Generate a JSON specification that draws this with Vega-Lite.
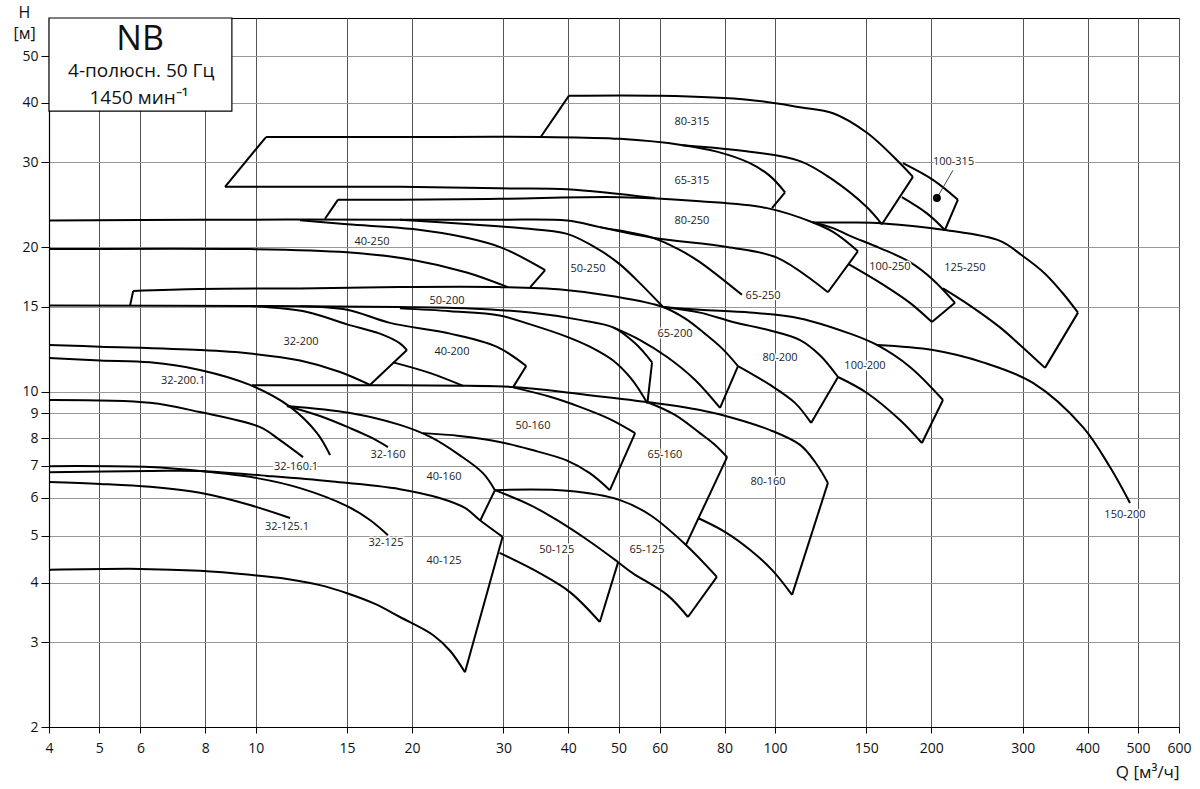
{
"$schema":"https://vega.github.io/schema/vega-lite/v6.json",
"width":1130,"height":709,
"autosize":{"type":"none"},
"padding":{"left":49,"top":18,"right":21,"bottom":62},
"background":"white",
"config":{"view":{"stroke":"#000","strokeWidth":1},"axis":{"labelFlush":false,"labelOverlap":false,"labelBound":false}},
"datasets":{
"box":[{"q":4,"q2":9.0,"h":38.4,"h2":60}],
"leader":[{"q":205.1,"h":25.3,"q2":220.2,"h2":28.9}],
"curves":[
{"s":"a1","o":0,"q":58.8,"h":25.3},{"s":"a1","o":1,"q":39.8,"h":26.4},{"s":"a1","o":2,"q":29.5,"h":26.5},{"s":"a1","o":3,"q":19.0,"h":26.7},{"s":"a1","o":4,"q":12.18,"h":26.7},{"s":"a1","o":5,"q":8.73,"h":26.7},
{"s":"a2","o":0,"q":8.73,"h":26.7},{"s":"a2","o":1,"q":10.47,"h":33.9},
{"s":"a3","o":0,"q":10.47,"h":33.9},{"s":"a3","o":1,"q":19.0,"h":33.9},{"s":"a3","o":2,"q":35.4,"h":33.9},{"s":"a3","o":3,"q":50.3,"h":33.6},{"s":"a3","o":4,"q":66.5,"h":32.6},{"s":"a3","o":5,"q":77.3,"h":31.6},{"s":"a3","o":6,"q":89.5,"h":29.9},{"s":"a3","o":7,"q":97.9,"h":28.1},{"s":"a3","o":8,"q":104.6,"h":26.0},
{"s":"a4","o":0,"q":104.6,"h":26.0},{"s":"a4","o":1,"q":98.7,"h":24.1},
{"s":"b1","o":0,"q":35.4,"h":33.9},{"s":"b1","o":1,"q":40.1,"h":41.3},
{"s":"b2","o":0,"q":40.1,"h":41.3},{"s":"b2","o":1,"q":60.1,"h":41.3},{"s":"b2","o":2,"q":89.5,"h":40.5},{"s":"b2","o":3,"q":111.8,"h":39.1},{"s":"b2","o":4,"q":129.4,"h":38.0},{"s":"b2","o":5,"q":150.4,"h":34.6},{"s":"b2","o":6,"q":174.1,"h":29.9},{"s":"b2","o":7,"q":184.4,"h":28.0},
{"s":"b3","o":0,"q":184.4,"h":28.0},{"s":"b3","o":1,"q":160.7,"h":22.3},
{"s":"b4","o":0,"q":66.5,"h":32.6},{"s":"b4","o":1,"q":89.5,"h":31.6},{"s":"b4","o":2,"q":111.8,"h":30.2},{"s":"b4","o":3,"q":129.4,"h":27.6},{"s":"b4","o":4,"q":150.4,"h":24.2},{"s":"b4","o":5,"q":160.7,"h":22.3},
{"s":"c1","o":0,"q":176.4,"h":29.9},{"s":"c1","o":1,"q":201.5,"h":27.6},{"s":"c1","o":2,"q":225.1,"h":25.1},
{"s":"c2","o":0,"q":225.1,"h":25.1},{"s":"c2","o":1,"q":212.5,"h":21.7},
{"s":"c3","o":0,"q":175.6,"h":25.4},{"s":"c3","o":1,"q":196.2,"h":23.5},{"s":"c3","o":2,"q":212.5,"h":21.7},
{"s":"d1","o":0,"q":13.6,"h":22.9},{"s":"d1","o":1,"q":14.41,"h":25.1},
{"s":"d2","o":0,"q":14.41,"h":25.1},{"s":"d2","o":1,"q":18.96,"h":25.1},{"s":"d2","o":2,"q":29.5,"h":25.2},{"s":"d2","o":3,"q":50.3,"h":25.4},{"s":"d2","o":4,"q":71.7,"h":24.9},{"s":"d2","o":5,"q":96.6,"h":24.1},{"s":"d2","o":6,"q":118.4,"h":22.5},{"s":"d2","o":7,"q":129.4,"h":21.5},{"s":"d2","o":8,"q":144.5,"h":19.6},
{"s":"d3","o":0,"q":144.5,"h":19.6},{"s":"d3","o":1,"q":126.5,"h":16.1},
{"s":"d4","o":0,"q":46.0,"h":22.0},{"s":"d4","o":1,"q":58.2,"h":20.9},{"s":"d4","o":2,"q":80.9,"h":20.0},{"s":"d4","o":3,"q":100.9,"h":19.0},{"s":"d4","o":4,"q":126.5,"h":16.1},
{"s":"e1","o":0,"q":4,"h":22.7},{"s":"e1","o":1,"q":7.81,"h":22.8},{"s":"e1","o":2,"q":18.96,"h":22.8},{"s":"e1","o":3,"q":29.5,"h":22.8},{"s":"e1","o":4,"q":39.8,"h":22.7},{"s":"e1","o":5,"q":46.0,"h":22.0},{"s":"e1","o":6,"q":58.2,"h":20.9},{"s":"e1","o":7,"q":65.7,"h":19.7},{"s":"e1","o":8,"q":71.7,"h":18.6},{"s":"e1","o":9,"q":86.4,"h":15.9},
{"s":"f1","o":0,"q":18.96,"h":22.8},{"s":"f1","o":1,"q":25.9,"h":22.3},{"s":"f1","o":2,"q":32.3,"h":21.9},{"s":"f1","o":3,"q":39.8,"h":21.3},{"s":"f1","o":4,"q":46.0,"h":19.7},{"s":"f1","o":5,"q":50.3,"h":18.4},{"s":"f1","o":6,"q":55.0,"h":16.8},{"s":"f1","o":7,"q":60.9,"h":15.0},
{"s":"g1","o":0,"q":12.18,"h":22.75},{"s":"g1","o":1,"q":15.0,"h":22.3},{"s":"g1","o":2,"q":20.1,"h":21.8},{"s":"g1","o":3,"q":25.5,"h":20.9},{"s":"g1","o":4,"q":29.9,"h":19.9},{"s":"g1","o":5,"q":36.1,"h":17.9},
{"s":"g2","o":0,"q":36.1,"h":17.9},{"s":"g2","o":1,"q":33.8,"h":16.5},
{"s":"g3","o":0,"q":4,"h":19.8},{"s":"g3","o":1,"q":9.75,"h":19.8},{"s":"g3","o":2,"q":15.0,"h":19.5},{"s":"g3","o":3,"q":20.1,"h":18.8},{"s":"g3","o":4,"q":25.5,"h":17.7},{"s":"g3","o":5,"q":30.6,"h":16.5},
{"s":"h1","o":0,"q":118.4,"h":22.5},{"s":"h1","o":1,"q":129.4,"h":21.9},{"s":"h1","o":2,"q":139.5,"h":21.1},{"s":"h1","o":3,"q":159.3,"h":19.9},{"s":"h1","o":4,"q":182.0,"h":18.6},{"s":"h1","o":5,"q":201.5,"h":17.1},{"s":"h1","o":6,"q":222.2,"h":15.3},
{"s":"h2","o":0,"q":222.2,"h":15.3},{"s":"h2","o":1,"q":200.6,"h":13.96},
{"s":"h3","o":0,"q":138.9,"h":18.4},{"s":"h3","o":1,"q":161.5,"h":16.7},{"s":"h3","o":2,"q":182.0,"h":15.3},{"s":"h3","o":3,"q":200.6,"h":13.96},
{"s":"i1","o":0,"q":118.4,"h":22.5},{"s":"i1","o":1,"q":139.5,"h":22.5},{"s":"i1","o":2,"q":161.5,"h":22.4},{"s":"i1","o":3,"q":212.5,"h":21.7},{"s":"i1","o":4,"q":271.3,"h":20.6},{"s":"i1","o":5,"q":299.3,"h":19.2},{"s":"i1","o":6,"q":331.2,"h":17.6},{"s":"i1","o":7,"q":357.1,"h":16.1},{"s":"i1","o":8,"q":383.4,"h":14.6},
{"s":"i2","o":0,"q":383.4,"h":14.6},{"s":"i2","o":1,"q":331.2,"h":11.2},
{"s":"i3","o":0,"q":210.7,"h":16.4},{"s":"i3","o":1,"q":237.5,"h":15.1},{"s":"i3","o":2,"q":271.3,"h":13.6},{"s":"i3","o":3,"q":296.5,"h":12.5},{"s":"i3","o":4,"q":331.2,"h":11.2},
{"s":"j1","o":0,"q":5.73,"h":15.1},{"s":"j1","o":1,"q":5.81,"h":16.2},
{"s":"j2","o":0,"q":5.81,"h":16.2},{"s":"j2","o":1,"q":7.81,"h":16.35},{"s":"j2","o":2,"q":12.18,"h":16.4},{"s":"j2","o":3,"q":18.96,"h":16.5},{"s":"j2","o":4,"q":29.5,"h":16.5},{"s":"j2","o":5,"q":39.1,"h":16.3},{"s":"j2","o":6,"q":48.8,"h":15.8},{"s":"j2","o":7,"q":60.9,"h":15.0},{"s":"j2","o":8,"q":67.1,"h":14.2},{"s":"j2","o":9,"q":73.3,"h":13.2},{"s":"j2","o":10,"q":79.1,"h":12.3},{"s":"j2","o":11,"q":84.9,"h":11.3},
{"s":"j4","o":0,"q":84.9,"h":11.3},{"s":"j4","o":1,"q":78.4,"h":9.24},
{"s":"j5","o":0,"q":48.8,"h":13.6},{"s":"j5","o":1,"q":55.0,"h":12.8},{"s":"j5","o":2,"q":62.0,"h":11.8},{"s":"j5","o":3,"q":70.2,"h":10.57},{"s":"j5","o":4,"q":78.4,"h":9.24},
{"s":"k1","o":0,"q":60.9,"h":15.0},{"s":"k1","o":1,"q":71.7,"h":14.8},{"s":"k1","o":2,"q":89.5,"h":14.6},{"s":"k1","o":3,"q":111.8,"h":14.2},{"s":"k1","o":4,"q":139.5,"h":13.2},{"s":"k1","o":5,"q":157.2,"h":12.5},{"s":"k1","o":6,"q":182.0,"h":11.25},{"s":"k1","o":7,"q":210.7,"h":9.6},
{"s":"k2","o":0,"q":210.7,"h":9.6},{"s":"k2","o":1,"q":191.9,"h":7.81},
{"s":"k3","o":0,"q":132.3,"h":10.72},{"s":"k3","o":1,"q":150.4,"h":9.93},{"s":"k3","o":2,"q":174.1,"h":8.72},{"s":"k3","o":3,"q":191.9,"h":7.81},
{"s":"l1","o":0,"q":60.9,"h":15.0},{"s":"l1","o":1,"q":71.7,"h":14.6},{"s":"l1","o":2,"q":83.0,"h":13.96},{"s":"l1","o":3,"q":97.9,"h":13.4},{"s":"l1","o":4,"q":111.8,"h":12.8},{"s":"l1","o":5,"q":122.1,"h":11.9},{"s":"l1","o":6,"q":132.3,"h":10.72},
{"s":"l2","o":0,"q":132.3,"h":10.72},{"s":"l2","o":1,"q":117.4,"h":8.6},
{"s":"l3","o":0,"q":84.9,"h":11.3},{"s":"l3","o":1,"q":97.9,"h":10.32},{"s":"l3","o":2,"q":109.3,"h":9.47},{"s":"l3","o":3,"q":117.4,"h":8.6},
{"s":"m1","o":0,"q":157.2,"h":12.5},{"s":"m1","o":1,"q":201.5,"h":12.2},{"s":"m1","o":2,"q":251.6,"h":11.5},{"s":"m1","o":3,"q":314.0,"h":10.42},{"s":"m1","o":4,"q":391.9,"h":8.43},{"s":"m1","o":5,"q":441.8,"h":6.96},{"s":"m1","o":6,"q":482.8,"h":5.86},
{"s":"n1","o":0,"q":4,"h":15.1},{"s":"n1","o":1,"q":9.75,"h":15.07},{"s":"n1","o":2,"q":18.96,"h":15.0},{"s":"n1","o":3,"q":25.9,"h":14.9},{"s":"n1","o":4,"q":33.8,"h":14.6},{"s":"n1","o":5,"q":42.1,"h":14.1},{"s":"n1","o":6,"q":48.8,"h":13.6},{"s":"n1","o":7,"q":53.8,"h":12.6},{"s":"n1","o":8,"q":58.0,"h":11.5},
{"s":"n2","o":0,"q":58.0,"h":11.5},{"s":"n2","o":1,"q":56.8,"h":9.45},
{"s":"n3","o":0,"q":18.96,"h":14.9},{"s":"n3","o":1,"q":23.7,"h":14.7},{"s":"n3","o":2,"q":29.5,"h":14.4},{"s":"n3","o":3,"q":33.8,"h":13.8},{"s":"n3","o":4,"q":39.8,"h":13.0},{"s":"n3","o":5,"q":44.0,"h":12.4},{"s":"n3","o":6,"q":48.8,"h":11.6},{"s":"n3","o":7,"q":53.1,"h":10.57},{"s":"n3","o":8,"q":56.8,"h":9.45},
{"s":"o1","o":0,"q":9.75,"h":15.07},{"s":"o1","o":1,"q":12.56,"h":14.65},{"s":"o1","o":2,"q":15.0,"h":13.8},{"s":"o1","o":3,"q":17.35,"h":13.2},{"s":"o1","o":4,"q":18.96,"h":12.6},{"s":"o1","o":5,"q":19.56,"h":12.2},
{"s":"o2","o":0,"q":19.56,"h":12.2},{"s":"o2","o":1,"q":16.6,"h":10.32},
{"s":"o3","o":0,"q":4,"h":12.5},{"s":"o3","o":1,"q":5.02,"h":12.4},{"s":"o3","o":2,"q":7.81,"h":12.2},{"s":"o3","o":3,"q":9.75,"h":12.0},{"s":"o3","o":4,"q":12.18,"h":11.6},{"s":"o3","o":5,"q":14.54,"h":10.98},{"s":"o3","o":6,"q":16.6,"h":10.32},
{"s":"p1","o":0,"q":12.18,"h":15.05},{"s":"p1","o":1,"q":15.0,"h":14.8},{"s":"p1","o":2,"q":18.14,"h":13.9},{"s":"p1","o":3,"q":23.7,"h":13.2},{"s":"p1","o":4,"q":29.1,"h":12.4},{"s":"p1","o":5,"q":33.2,"h":11.3},
{"s":"p2","o":0,"q":33.2,"h":11.3},{"s":"p2","o":1,"q":31.3,"h":10.2},
{"s":"p3","o":0,"q":18.4,"h":11.5},{"s":"p3","o":1,"q":21.7,"h":10.92},{"s":"p3","o":2,"q":25.1,"h":10.27},
{"s":"q1","o":0,"q":4,"h":11.74},{"s":"q1","o":1,"q":5.02,"h":11.6},{"s":"q1","o":2,"q":6.26,"h":11.5},{"s":"q1","o":3,"q":7.81,"h":11.09},{"s":"q1","o":4,"q":9.75,"h":10.32},{"s":"q1","o":5,"q":11.65,"h":9.29},{"s":"q1","o":6,"q":13.13,"h":8.19},{"s":"q1","o":7,"q":13.91,"h":7.37},
{"s":"r1","o":0,"q":4,"h":9.6},{"s":"r1","o":1,"q":6.26,"h":9.47},{"s":"r1","o":2,"q":7.81,"h":9.06},{"s":"r1","o":3,"q":10.2,"h":8.43},{"s":"r1","o":4,"q":11.14,"h":7.92},{"s":"r1","o":5,"q":12.34,"h":7.3},
{"s":"s1","o":0,"q":11.49,"h":9.33},{"s":"s1","o":1,"q":13.3,"h":8.89},{"s":"s1","o":2,"q":15.2,"h":8.39},{"s":"s1","o":3,"q":16.6,"h":8.04},{"s":"s1","o":4,"q":17.98,"h":7.66},
{"s":"t1","o":0,"q":9.84,"h":10.3},{"s":"t1","o":1,"q":18.96,"h":10.3},{"s":"t1","o":2,"q":31.3,"h":10.22},{"s":"t1","o":3,"q":42.1,"h":9.88},{"s":"t1","o":4,"q":56.7,"h":9.51},{"s":"t1","o":5,"q":71.7,"h":9.15},{"s":"t1","o":6,"q":83.0,"h":8.81},{"s":"t1","o":7,"q":97.9,"h":8.31},{"s":"t1","o":8,"q":111.8,"h":7.74},{"s":"t1","o":9,"q":119.5,"h":7.13},{"s":"t1","o":10,"q":126.5,"h":6.45},
{"s":"t2","o":0,"q":126.5,"h":6.45},{"s":"t2","o":1,"q":107.9,"h":3.77},
{"s":"t3","o":0,"q":71.1,"h":5.45},{"s":"t3","o":1,"q":80.1,"h":5.1},{"s":"t3","o":2,"q":89.5,"h":4.68},{"s":"t3","o":3,"q":98.7,"h":4.25},{"s":"t3","o":4,"q":107.9,"h":3.77},
{"s":"u1","o":0,"q":56.7,"h":9.51},{"s":"u1","o":1,"q":64.2,"h":8.94},{"s":"u1","o":2,"q":71.7,"h":8.19},{"s":"u1","o":3,"q":76.7,"h":7.74},{"s":"u1","o":4,"q":80.9,"h":7.3},
{"s":"u2","o":0,"q":80.9,"h":7.3},{"s":"u2","o":1,"q":67.4,"h":4.79},
{"s":"v1","o":0,"q":31.3,"h":10.2},{"s":"v1","o":1,"q":36.9,"h":9.75},{"s":"v1","o":2,"q":42.1,"h":9.29},{"s":"v1","o":3,"q":48.1,"h":8.76},{"s":"v1","o":4,"q":53.8,"h":8.19},
{"s":"v2","o":0,"q":53.8,"h":8.19},{"s":"v2","o":1,"q":48.1,"h":6.23},
{"s":"v3","o":0,"q":21.0,"h":8.19},{"s":"v3","o":1,"q":24.7,"h":8.08},{"s":"v3","o":2,"q":29.5,"h":7.85},{"s":"v3","o":3,"q":33.8,"h":7.57},{"s":"v3","o":4,"q":39.8,"h":7.18},{"s":"v3","o":5,"q":44.0,"h":6.76},{"s":"v3","o":6,"q":48.1,"h":6.23},
{"s":"w1","o":0,"q":11.49,"h":9.33},{"s":"w1","o":1,"q":15.2,"h":9.02},{"s":"w1","o":2,"q":18.96,"h":8.52},{"s":"w1","o":3,"q":21.7,"h":8.04},{"s":"w1","o":4,"q":24.7,"h":7.37},{"s":"w1","o":5,"q":27.4,"h":6.76},{"s":"w1","o":6,"q":28.9,"h":6.23},
{"s":"w2","o":0,"q":28.9,"h":6.23},{"s":"w2","o":1,"q":27.1,"h":5.4},
{"s":"x1","o":0,"q":4,"h":6.48},{"s":"x1","o":1,"q":5.02,"h":6.42},{"s":"x1","o":2,"q":6.26,"h":6.33},{"s":"x1","o":3,"q":7.81,"h":6.15},{"s":"x1","o":4,"q":9.75,"h":5.8},{"s":"x1","o":5,"q":11.65,"h":5.45},
{"s":"y1","o":0,"q":4,"h":6.99},{"s":"y1","o":1,"q":6.26,"h":6.96},{"s":"y1","o":2,"q":7.81,"h":6.83},{"s":"y1","o":3,"q":10.06,"h":6.6},{"s":"y1","o":4,"q":12.18,"h":6.29},{"s":"y1","o":5,"q":15.0,"h":5.77},{"s":"y1","o":6,"q":16.6,"h":5.4},{"s":"y1","o":7,"q":17.98,"h":5.02},
{"s":"z1","o":0,"q":4,"h":6.79},{"s":"z1","o":1,"q":6.26,"h":6.83},{"s":"z1","o":2,"q":7.81,"h":6.83},{"s":"z1","o":3,"q":10.52,"h":6.67},{"s":"z1","o":4,"q":13.91,"h":6.5},{"s":"z1","o":5,"q":18.96,"h":6.26},{"s":"z1","o":6,"q":22.6,"h":6.0},{"s":"z1","o":7,"q":25.3,"h":5.72},{"s":"z1","o":8,"q":27.0,"h":5.4},{"s":"z1","o":9,"q":29.9,"h":4.98},
{"s":"z2","o":0,"q":29.9,"h":4.98},{"s":"z2","o":1,"q":25.3,"h":2.6},
{"s":"z3","o":0,"q":4,"h":4.25},{"s":"z3","o":1,"q":5.99,"h":4.27},{"s":"z3","o":2,"q":7.81,"h":4.23},{"s":"z3","o":3,"q":9.76,"h":4.15},{"s":"z3","o":4,"q":11.49,"h":4.07},{"s":"z3","o":5,"q":13.3,"h":3.95},{"s":"z3","o":6,"q":15.0,"h":3.8},{"s":"z3","o":7,"q":16.98,"h":3.61},{"s":"z3","o":8,"q":18.96,"h":3.39},{"s":"z3","o":9,"q":21.95,"h":3.11},{"s":"z3","o":10,"q":23.7,"h":2.88},{"s":"z3","o":11,"q":25.3,"h":2.6},
{"s":"A1","o":0,"q":28.9,"h":6.23},{"s":"A1","o":1,"q":33.8,"h":5.8},{"s":"A1","o":2,"q":38.0,"h":5.4},{"s":"A1","o":3,"q":43.5,"h":4.91},{"s":"A1","o":4,"q":49.9,"h":4.41},
{"s":"A2","o":0,"q":49.9,"h":4.41},{"s":"A2","o":1,"q":46.0,"h":3.31},
{"s":"A3","o":0,"q":29.5,"h":4.61},{"s":"A3","o":1,"q":35.3,"h":4.18},{"s":"A3","o":2,"q":40.3,"h":3.82},{"s":"A3","o":3,"q":46.0,"h":3.31},
{"s":"B1","o":0,"q":28.9,"h":6.23},{"s":"B1","o":1,"q":39.8,"h":6.21},{"s":"B1","o":2,"q":50.3,"h":5.94},{"s":"B1","o":3,"q":57.5,"h":5.53},{"s":"B1","o":4,"q":67.4,"h":4.79},{"s":"B1","o":5,"q":77.3,"h":4.11},
{"s":"B2","o":0,"q":77.3,"h":4.11},{"s":"B2","o":1,"q":68.0,"h":3.39},
{"s":"B3","o":0,"q":49.9,"h":4.41},{"s":"B3","o":1,"q":53.3,"h":4.18},{"s":"B3","o":2,"q":62.0,"h":3.77},{"s":"B3","o":3,"q":68.0,"h":3.39}
],
"labels":[
{"t":"80-315","q":69.2,"h":36.4},{"t":"65-315","q":69.2,"h":27.5},{"t":"80-250","q":69.2,"h":22.7},
{"t":"40-250","q":16.75,"h":20.5},{"t":"50-250","q":43.65,"h":18.0},{"t":"65-250","q":94.9,"h":15.8},
{"t":"100-250","q":166.5,"h":18.2},{"t":"125-250","q":232.2,"h":18.1},{"t":"50-200","q":23.36,"h":15.4},
{"t":"65-200","q":64.2,"h":13.2},{"t":"80-200","q":102.3,"h":11.74},{"t":"100-200","q":149.1,"h":11.3},
{"t":"32-200","q":12.23,"h":12.68},{"t":"40-200","q":23.88,"h":12.09},{"t":"32-200.1","q":7.25,"h":10.52},
{"t":"150-200","q":472.2,"h":5.53},{"t":"50-160","q":34.2,"h":8.47},{"t":"65-160","q":61.4,"h":7.37},
{"t":"80-160","q":97.0,"h":6.48},{"t":"32-160","q":17.98,"h":7.37},{"t":"32-160.1","q":11.96,"h":6.96},
{"t":"40-160","q":23.05,"h":6.64},{"t":"32-125.1","q":11.49,"h":5.22},{"t":"32-125","q":17.82,"h":4.84},
{"t":"40-125","q":23.05,"h":4.43},{"t":"50-125","q":38.0,"h":4.68},{"t":"65-125","q":56.7,"h":4.68}
],
"labelL":[{"t":"100-315","q":201.5,"h":30.1}],
"dot":[{"q":205.1,"h":25.3}],
"nb":[{"t":"NB","q":5.99,"h":53.96}],
"sub":[{"t":"4-полюсн. 50 Гц","q":6.02,"h":46.5},{"t":"1450 мин⁻¹","q":5.96,"h":40.9}]
},
"encoding":{
 "x":{"field":"q","type":"quantitative","scale":{"type":"log","domain":[4,600],"nice":false,"zero":false},
   "axis":{"values":[4,5,6,8,10,15,20,30,40,50,60,80,100,150,200,300,400,500,600],"format":"d","grid":true,"gridColor":"#555","gridWidth":1,"tickColor":"#000","tickSize":6,"domainColor":"#000","domainWidth":1.2,"labelFont":"Open Sans","labelFontSize":14,"labelColor":"#111","labelPadding":8,
    "title":"Q  [м³/ч]","titleFont":"Open Sans","titleFontSize":17,"titleFontWeight":"normal","titleColor":"#111","titleX":1130,"titleY":45,"titleAlign":"right","titleBaseline":"middle"}},
 "y":{"field":"h","type":"quantitative","scale":{"type":"log","domain":[2,60],"nice":false,"zero":false},
   "axis":{"values":[2,3,4,5,6,7,8,9,10,15,20,30,40,50],"format":"d","grid":true,"gridColor":"#999","gridWidth":1.2,"tickColor":"#000","tickSize":8,"domainColor":"#000","domainWidth":1.2,"labelFont":"Open Sans","labelFontSize":14,"labelColor":"#111","labelPadding":3,
    "title":["H","[м]"],"titleFont":"Open Sans","titleFontSize":16,"titleFontWeight":"normal","titleColor":"#111","titleAngle":0,"titleX":-25,"titleY":-14,"titleAlign":"center","titleBaseline":"top","titleLineHeight":21}}
},
"layer":[
{"data":{"name":"box"},
 "mark":{"type":"rect","fill":"white","stroke":"black","strokeWidth":1.2},
 "encoding":{"x2":{"field":"q2"},"y2":{"field":"h2"}}},
{"data":{"name":"curves"},
 "mark":{"type":"line","interpolate":"catmull-rom","stroke":"black","strokeWidth":2,"strokeJoin":"miter","clip":true},
 "encoding":{"detail":{"field":"s","type":"nominal"},"order":{"field":"o","type":"quantitative"}}},
{"data":{"name":"leader"},
 "mark":{"type":"rule","stroke":"#444","strokeWidth":1},
 "encoding":{"x2":{"field":"q2"},"y2":{"field":"h2"}}},
{"data":{"name":"dot"},
 "mark":{"type":"point","filled":true,"fill":"black","stroke":"black","size":35,"opacity":1},
 "encoding":{}},
{"data":{"name":"labels"},
 "mark":{"type":"text","font":"Open Sans","fontSize":11,"fill":"white","stroke":"white","strokeWidth":3,"align":"center","baseline":"middle"},
 "encoding":{"text":{"field":"t"}}},
{"data":{"name":"labels"},
 "mark":{"type":"text","font":"Open Sans","fontSize":11,"fill":"#222","align":"center","baseline":"middle"},
 "encoding":{"text":{"field":"t"}}},
{"data":{"name":"labelL"},
 "mark":{"type":"text","font":"Open Sans","fontSize":11,"fill":"white","stroke":"white","strokeWidth":3,"align":"left","baseline":"middle"},
 "encoding":{"text":{"field":"t"}}},
{"data":{"name":"labelL"},
 "mark":{"type":"text","font":"Open Sans","fontSize":11,"fill":"#222","align":"left","baseline":"middle"},
 "encoding":{"text":{"field":"t"}}},
{"data":{"name":"nb"},
 "mark":{"type":"text","font":"Open Sans","fontSize":34,"fill":"#111","align":"center","baseline":"middle"},
 "encoding":{"text":{"field":"t"}}},
{"data":{"name":"sub"},
 "mark":{"type":"text","font":"Open Sans","fontSize":19,"fill":"#111","align":"center","baseline":"middle"},
 "encoding":{"text":{"field":"t"}}}
]
}
